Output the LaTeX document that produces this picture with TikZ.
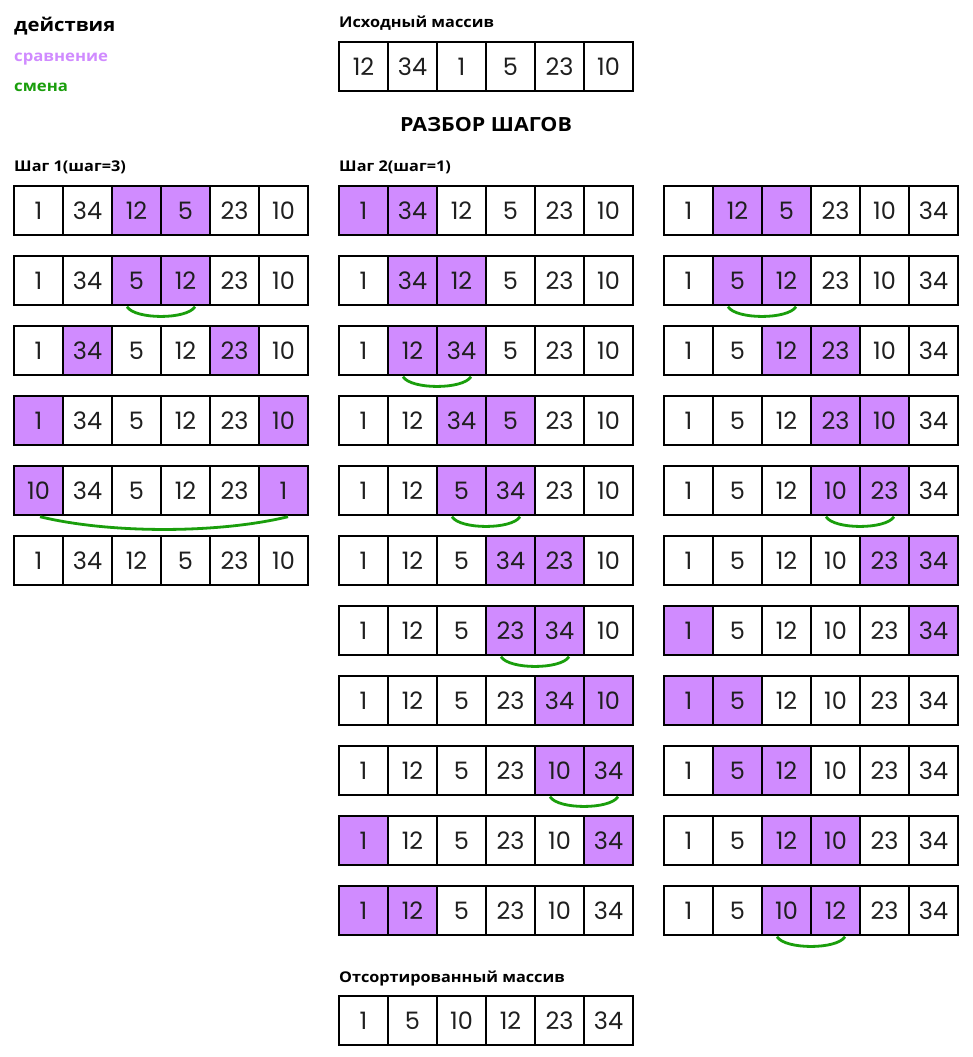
\documentclass[tikz,border=0pt]{standalone}
\usepackage{fontspec}
\setmainfont{Open Sans}[FakeStretch=1.1]
\newfontfamily\numfont{Poppins}
\definecolor{hl}{HTML}{D08BFF}
\definecolor{grn}{HTML}{1A9E0C}
\colorlet{c0}{white}
\colorlet{c1}{hl}
\tikzset{
  cell/.style={draw=black, line width=1.4pt, minimum width=49pt, minimum height=49pt,
    inner sep=0pt, font=\numfont\fontsize{24}{24}\selectfont, text=black!88},
  swapline/.style={draw=grn, line width=2.8pt},
  lbl/.style={anchor=base west, inner sep=0pt, font=\bfseries\fontsize{14.8}{14.8}\selectfont},
}
\newcommand\arr[4]{%
  \foreach \v/\h [count=\i] in {#4} {
    \node[cell, fill=c\h] (#1-\i) at ({#2+(\i-0.5)*49},{#3+24.5}) {\v};
  }}
\newcommand\swp[3]{%
  \draw[swapline] ([xshift=-9.5pt,yshift=-1pt]#1-#2.south) .. controls +(8,13) and +(-8,13) .. ([xshift=9.5pt,yshift=-1pt]#1-#3.south);}
\begin{document}
\begin{tikzpicture}[x=1pt,y=-1pt]
\useasboundingbox[fill=white] (0,0) rectangle (973,1057);
% legend
\node[lbl, font=\bfseries\fontsize{18.4}{18.4}\selectfont] (legend) at (14,32) {действия};
\node[lbl, font=\bfseries\fontsize{15.2}{15.2}\selectfont, text=hl] (cmp) at (14,62) {сравнение};
\node[lbl, font=\bfseries\fontsize{15.2}{15.2}\selectfont, text=grn] (chg) at (14,92) {смена};
% headings
\node[lbl] (orig) at (339,28) {Исходный массив};
\node[anchor=base, inner sep=0pt, font=\bfseries\fontsize{19.5}{19.5}\selectfont] (title) at (486,131) {РАЗБОР ШАГОВ};
\node[lbl] (s1) at (14,171) {Шаг 1(шаг=3)};
\node[lbl] (s2) at (339,171) {Шаг 2(шаг=1)};
\node[lbl] (sorted) at (339,982) {Отсортированный массив};
% original and sorted
\arr{O}{339}{42}{12/0,34/0,1/0,5/0,23/0,10/0}
\arr{S}{339}{996}{1/0,5/0,10/0,12/0,23/0,34/0}
% column 1
\arr{A1}{14}{186}{1/0,34/0,12/1,5/1,23/0,10/0}
\arr{A2}{14}{256}{1/0,34/0,5/1,12/1,23/0,10/0}
\arr{A3}{14}{326}{1/0,34/1,5/0,12/0,23/1,10/0}
\arr{A4}{14}{396}{1/1,34/0,5/0,12/0,23/0,10/1}
\arr{A5}{14}{466}{10/1,34/0,5/0,12/0,23/0,1/1}
\arr{A6}{14}{536}{1/0,34/0,12/0,5/0,23/0,10/0}
\swp{A2}{3}{4}
\draw[swapline] ([xshift=1.5pt,yshift=-1pt]A5-1.south) .. controls +(70,17) and +(-70,17) .. ([xshift=4.5pt,yshift=-1pt]A5-6.south);
% column 2
\arr{B1}{339}{186}{1/1,34/1,12/0,5/0,23/0,10/0}
\arr{B2}{339}{256}{1/0,34/1,12/1,5/0,23/0,10/0}
\arr{B3}{339}{326}{1/0,12/1,34/1,5/0,23/0,10/0}
\arr{B4}{339}{396}{1/0,12/0,34/1,5/1,23/0,10/0}
\arr{B5}{339}{466}{1/0,12/0,5/1,34/1,23/0,10/0}
\arr{B6}{339}{536}{1/0,12/0,5/0,34/1,23/1,10/0}
\arr{B7}{339}{606}{1/0,12/0,5/0,23/1,34/1,10/0}
\arr{B8}{339}{676}{1/0,12/0,5/0,23/0,34/1,10/1}
\arr{B9}{339}{746}{1/0,12/0,5/0,23/0,10/1,34/1}
\arr{B10}{339}{816}{1/1,12/0,5/0,23/0,10/0,34/1}
\arr{B11}{339}{886}{1/1,12/1,5/0,23/0,10/0,34/0}
\swp{B3}{2}{3}
\swp{B5}{3}{4}
\swp{B7}{4}{5}
\swp{B9}{5}{6}
% column 3
\arr{C1}{664}{186}{1/0,12/1,5/1,23/0,10/0,34/0}
\arr{C2}{664}{256}{1/0,5/1,12/1,23/0,10/0,34/0}
\arr{C3}{664}{326}{1/0,5/0,12/1,23/1,10/0,34/0}
\arr{C4}{664}{396}{1/0,5/0,12/0,23/1,10/1,34/0}
\arr{C5}{664}{466}{1/0,5/0,12/0,10/1,23/1,34/0}
\arr{C6}{664}{536}{1/0,5/0,12/0,10/0,23/1,34/1}
\arr{C7}{664}{606}{1/1,5/0,12/0,10/0,23/0,34/1}
\arr{C8}{664}{676}{1/1,5/1,12/0,10/0,23/0,34/0}
\arr{C9}{664}{746}{1/0,5/1,12/1,10/0,23/0,34/0}
\arr{C10}{664}{816}{1/0,5/0,12/1,10/1,23/0,34/0}
\arr{C11}{664}{886}{1/0,5/0,10/1,12/1,23/0,34/0}
\swp{C2}{2}{3}
\swp{C5}{4}{5}
\swp{C11}{3}{4}
\end{tikzpicture}
\end{document}
